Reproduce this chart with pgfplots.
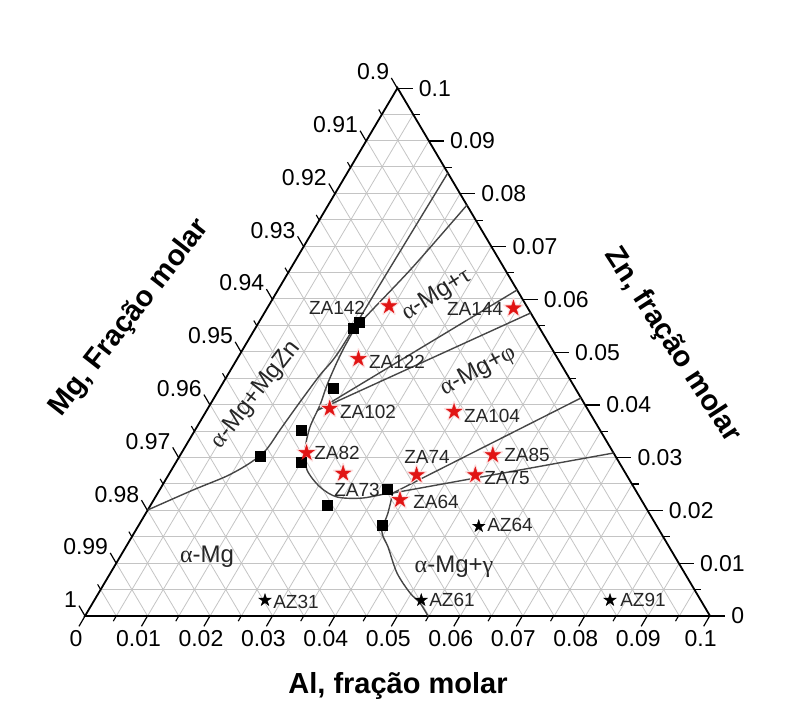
\documentclass[border=0pt]{standalone}
\usepackage{pgfplots}
\pgfplotsset{compat=1.18}
\usepackage{pgfplotstable}
\usepackage{fontspec}
\setmainfont{Liberation Sans}
\newfontfamily\grk{Liberation Serif}

\definecolor{gridc}{RGB}{196,196,196}
\definecolor{curvec}{RGB}{70,70,70}
\definecolor{starred}{RGB}{225,20,20}
\definecolor{halo}{RGB}{252,222,222}

\newcommand{\tickf}{\fontsize{23}{26}\selectfont}
\newcommand{\labf}{\fontsize{19}{22}\selectfont}
\newcommand{\regf}{\fontsize{24}{27}\selectfont}
\newcommand{\titf}{\fontsize{29}{32}\selectfont\bfseries}

% ternary (Al = a, Zn = z) -> picture point (1 unit = 1pt)
\newcommand{\TP}[2]{({85+6250*(#1)+3125*(#2)},{94+5280*(#2)})}

\pgfdeclareplotmark{fstar}{%
  \pgfpathmoveto{\pgfpointpolar{90}{\pgfplotmarksize}}%
  \pgfpathlineto{\pgfpointpolar{126}{0.382*\pgfplotmarksize}}%
  \pgfpathlineto{\pgfpointpolar{162}{\pgfplotmarksize}}%
  \pgfpathlineto{\pgfpointpolar{198}{0.382*\pgfplotmarksize}}%
  \pgfpathlineto{\pgfpointpolar{234}{\pgfplotmarksize}}%
  \pgfpathlineto{\pgfpointpolar{270}{0.382*\pgfplotmarksize}}%
  \pgfpathlineto{\pgfpointpolar{306}{\pgfplotmarksize}}%
  \pgfpathlineto{\pgfpointpolar{342}{0.382*\pgfplotmarksize}}%
  \pgfpathlineto{\pgfpointpolar{18}{\pgfplotmarksize}}%
  \pgfpathlineto{\pgfpointpolar{54}{0.382*\pgfplotmarksize}}%
  \pgfpathclose
  \pgfusepathqfillstroke
}

% ---- data: a = Al molar fraction, z = Zn molar fraction ----
\pgfplotstableread{
a z
0.0193 0.0587
0.0394 0.0583
0.0194 0.0487
0.0195 0.0393
0.0397 0.0387
0.0200 0.0309
0.0278 0.0270
0.0397 0.0267
0.0500 0.0305
0.0491 0.0267
0.0394 0.0220
}\redstars
\pgfplotstableread{
a z
0.0273 0.0030
0.0523 0.0030
0.0825 0.0030
0.0545 0.0170
}\blackstars
\pgfplotstableread{
a z
0.0156 0.0545
0.0160 0.0556
0.0181 0.0431
0.0170 0.0351
0.0129 0.0302
0.0200 0.0292
0.0282 0.0210
0.0363 0.0240
0.0390 0.0172
}\squares
\pgfplotstableread{
a z
0.0000 0.02008
0.00535 0.02386
0.00946 0.02652
0.01191 0.02898
0.01324 0.03144
0.01358 0.03523
0.01413 0.04053
0.01478 0.04564
0.01561 0.05038
0.01584 0.06591
0.0161 0.0839
}\cone
\pgfplotstableread{
a z
0.02220 0.07784
0.01936 0.06591
0.01626 0.05549
0.01600 0.05189
0.01627 0.04811
0.01685 0.04375
0.01762 0.03996
0.01810 0.03580
0.01948 0.03144
0.02170 0.02765
0.02539 0.02443
0.02905 0.02254
0.03331 0.02235
0.03754 0.02348
}\ctwo
\pgfplotstableread{
a z
0.03754 0.02348
0.03872 0.01951
0.03950 0.01600
0.04195 0.01307
0.04585 0.00814
0.04982 0.00436
0.05237 0.00246
0.05488 0.0
}\cthree

\begin{document}
\begin{tikzpicture}[x=1pt,y=1pt]
\path[use as bounding box] (0,0) rectangle (794,710);
% grid
\foreach \k in {1,...,19}{
  \pgfmathsetmacro\v{\k*0.005}
  \draw[gridc, line width=0.8] \TP{\v}{0} -- \TP{\v}{0.1-\v};
  \draw[gridc, line width=0.8] \TP{0}{\v} -- \TP{0.1-\v}{\v};
  \draw[gridc, line width=0.8] \TP{\v}{0} -- \TP{0}{\v};
}
% triangle
\draw[line width=1.8, line join=miter] \TP{0}{0} -- \TP{0.1}{0} -- \TP{0}{0.1} -- cycle;
% major ticks + labels
\foreach \k in {0,...,10}{
  \pgfmathsetmacro\v{\k*0.01}
  \pgfmathsetmacro\m{1-\v}
  \pgfmathsetmacro\w{0.1-\v}
  \draw[line width=1.2] \TP{\v}{0} -- ++(-6,-10.3);
  \node[anchor=north, inner sep=0, xshift=-9pt, yshift=-14pt, font=\tickf] at \TP{\v}{0}
     {\pgfmathprintnumber[fixed,precision=2,assume math mode=true]{\v}};
  \draw[line width=1.2] \TP{\w}{\v} -- ++(15,0);
  \node[anchor=west, inner sep=0, xshift=21pt, font=\tickf] at \TP{\w}{\v}
     {\pgfmathprintnumber[fixed,precision=2,assume math mode=true]{\v}};
  \draw[line width=1.2] \TP{0}{\v} -- ++(-6,10.3);
  \node[anchor=south east, inner sep=0, xshift=-8pt, yshift=8pt, font=\tickf] at \TP{0}{\v}
     {\pgfmathprintnumber[fixed,precision=2,assume math mode=true]{\m}};
}
% minor ticks
\foreach \k in {0,...,9}{
  \pgfmathsetmacro\v{\k*0.01+0.005}
  \pgfmathsetmacro\w{0.1-\v}
  \draw[line width=1.1] \TP{\v}{0} -- ++(-3,-5.2);
  \draw[line width=1.1] \TP{\w}{\v} -- ++(7,0);
  \draw[line width=1.1] \TP{0}{\v} -- ++(-3,5.2);
}

\begin{axis}[at={(0,0)}, anchor=south west,
  width=794pt, height=710pt, scale only axis,
  xmin=0, xmax=794, ymin=0, ymax=710,
  hide axis, clip=false]
% halos behind red stars
\addplot[only marks, mark=fstar, mark size=10pt, halo, mark options={line width=1.5pt, line join=round}] table[x expr={85+6250*\thisrow{a}+3125*\thisrow{z}}, y expr={94+5280*\thisrow{z}}] {\redstars};
% boundary curves
\addplot[curvec, line width=1.4, smooth, tension=0.5] table[x expr={85+6250*\thisrow{a}+3125*\thisrow{z}}, y expr={94+5280*\thisrow{z}}] {\cone};
\addplot[curvec, line width=1.4, smooth, tension=0.5] table[x expr={85+6250*\thisrow{a}+3125*\thisrow{z}}, y expr={94+5280*\thisrow{z}}] {\ctwo};
\addplot[curvec, line width=1.4, smooth, tension=0.5] table[x expr={85+6250*\thisrow{a}+3125*\thisrow{z}}, y expr={94+5280*\thisrow{z}}] {\cthree};
\addplot[curvec, line width=1.4] table[x expr={85+6250*\thisrow{a}+3125*\thisrow{z}}, y expr={94+5280*\thisrow{z}}, row sep=\\] {a z\\ 0.01777 0.03902\\ 0.03826 0.06174\\};
\addplot[curvec, line width=1.4] table[x expr={85+6250*\thisrow{a}+3125*\thisrow{z}}, y expr={94+5280*\thisrow{z}}, row sep=\\] {a z\\ 0.01777 0.03902\\ 0.04261 0.05739\\};
\addplot[curvec, line width=1.4] table[x expr={85+6250*\thisrow{a}+3125*\thisrow{z}}, y expr={94+5280*\thisrow{z}}, row sep=\\] {a z\\ 0.03763 0.02330\\ 0.05871 0.04129\\};
\addplot[curvec, line width=1.4] table[x expr={85+6250*\thisrow{a}+3125*\thisrow{z}}, y expr={94+5280*\thisrow{z}}, row sep=\\] {a z\\ 0.03763 0.02330\\ 0.06913 0.03087\\};
% markers
\addplot[only marks, mark=square*, mark size=5pt, black] table[x expr={85+6250*\thisrow{a}+3125*\thisrow{z}}, y expr={94+5280*\thisrow{z}}] {\squares};
\addplot[only marks, mark=fstar, mark size=8pt, starred, mark options={line width=0.4pt}] table[x expr={85+6250*\thisrow{a}+3125*\thisrow{z}}, y expr={94+5280*\thisrow{z}}] {\redstars};
\addplot[only marks, mark=fstar, mark size=6.5pt, black, mark options={line width=0.4pt}] table[x expr={85+6250*\thisrow{a}+3125*\thisrow{z}}, y expr={94+5280*\thisrow{z}}] {\blackstars};
\end{axis}

% point labels
\begin{scope}[every node/.style={font=\labf, inner sep=0, text=black!85}]
\node at (337,402) {ZA142};
\node at (475,401) {ZA144};
\node at (397,348) {ZA122};
\node at (368,298) {ZA102};
\node at (492,294) {ZA104};
\node at (337,257) {ZA82};
\node at (427,253) {ZA74};
\node at (527,255) {ZA85};
\node at (507,232) {ZA75};
\node at (357,220) {ZA73};
\node at (436,208) {ZA64};
\node at (510,185) {AZ64};
\node at (296,108) {AZ31};
\node at (452,110) {AZ61};
\node at (643,110) {AZ91};
\end{scope}
% region labels
\begin{scope}[every node/.style={font=\regf, inner sep=0, text=black!85}]
\node[rotate=32] at (437,415) {{\grk α}-Mg+{\grk τ}};
\node[rotate=28] at (478,339) {{\grk α}-Mg+{\grk φ}};
\node[rotate=52] at (256,315) {{\grk α}-Mg+MgZn};
\node at (207,153) {{\grk α}-Mg};
\node at (454,143) {{\grk α}-Mg+{\grk γ}};
\end{scope}
% axis titles
\node[font=\titf, inner sep=0] at (398,24) {Al, fração molar};
\node[font=\titf, inner sep=0, rotate=-57] at (672,365) {Zn, fração molar};
\node[font=\titf, inner sep=0, rotate=52] at (130,392) {Mg, Fração molar};
\end{tikzpicture}
\end{document}
